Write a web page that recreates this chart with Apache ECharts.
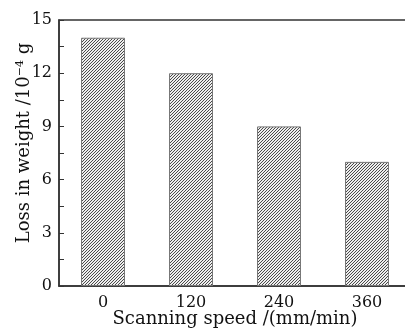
<!DOCTYPE html>
<html>
<head>
<meta charset="utf-8">
<script src="https://cdn.jsdelivr.net/npm/echarts@6/dist/echarts.min.js"></script>
<style>
html, body { margin: 0; padding: 0; background: #fff; }
#chart { width: 405px; height: 332px; }
</style>
</head>
<body>
<div id="chart"></div>
<script>
// data
var speeds = ['0', '120', '240', '360'];
var lossValues = [14, 12, 9, 7];
var yMin = 0, yMax = 15, yStep = 3;

// hatch fill: thin "/" stripes
function makeHatch() {
    var c = document.createElement('canvas');
    c.width = 6;
    c.height = 6;
    var ctx = c.getContext('2d');
    ctx.fillStyle = '#eeeeee';
    ctx.fillRect(0, 0, 6, 6);
    ctx.fillStyle = '#4a4a4a';
    for (var x = 0; x < 6; x++) {
        for (var y = 0; y < 6; y++) {
            if ((x + y) % 3 === 0) ctx.fillRect(x, y, 1, 1);
        }
    }
    return c;
}

var font = 'DejaVu Serif';
var myChart = echarts.init(document.getElementById('chart'));
var option = {
    animation: false,
    grid: {
        left: 59, top: 20, right: -6, bottom: 46,
        outerBoundsMode: 'none',
        containLabel: false,
        show: true, borderColor: '#333', borderWidth: 1.5
    },
    xAxis: [{
        type: 'category',
        data: speeds,
        name: 'Scanning speed /(mm/min)',
        nameLocation: 'middle',
        nameMoveOverlap: false,
        nameGap: 24,
        nameTextStyle: { fontFamily: font, fontSize: 18, color: '#111' },
        axisLine: { lineStyle: { color: '#333', width: 1.5 } },
        axisTick: { inside: true, alignWithLabel: true, length: 4, lineStyle: { color: '#333' } },
        axisLabel: { fontFamily: font, fontSize: 16, color: '#111', margin: 9 }
    }, {
        type: 'category',
        data: speeds,
        position: 'bottom',
        axisLine: { show: false },
        axisTick: { inside: true, length: 4, lineStyle: { color: '#333' } },
        axisLabel: { show: false }
    }],
    yAxis: {
        type: 'value',
        min: yMin,
        max: yMax,
        interval: yStep,
        name: '{a|Loss in weight /10}{s|−4}{a| g}',
        nameLocation: 'middle',
        nameMoveOverlap: false,
        nameGap: 26,
        nameTextStyle: {
            padding: [0, 0, 0, 20],
            rich: {
                a: { fontFamily: font, fontSize: 18, color: '#111' },
                s: { fontFamily: font, fontSize: 11, color: '#111', verticalAlign: 'top', lineHeight: 18 }
            }
        },
        splitLine: { show: false },
        axisLine: { show: true, lineStyle: { color: '#333', width: 1.5 } },
        axisTick: { show: true, inside: true, length: 5, lineStyle: { color: '#333' } },
        minorTick: { show: true, splitNumber: 2, length: 5, lineStyle: { color: '#333' } },
        axisLabel: { fontFamily: font, fontSize: 16, color: '#111', margin: 7 }
    },
    series: [{
        type: 'bar',
        data: lossValues,
        barWidth: '50%',
        itemStyle: {
            color: { image: makeHatch(), repeat: 'repeat' },
            borderColor: '#777',
            borderWidth: 1
        }
    }]
};
myChart.setOption(option);
</script>
</body>
</html>
